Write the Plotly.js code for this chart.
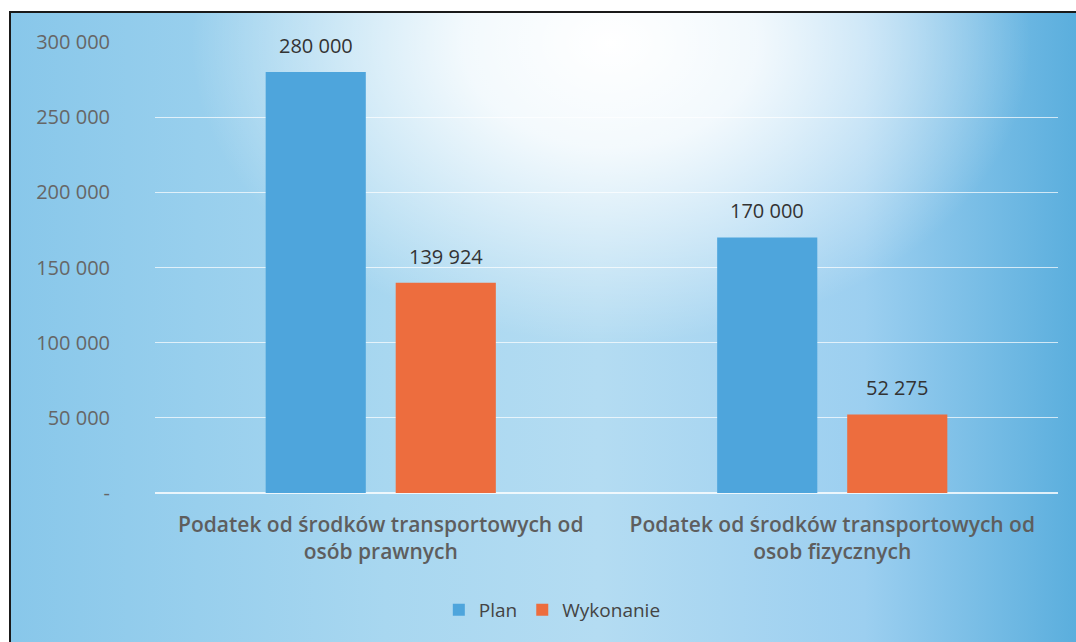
<!DOCTYPE html>
<html>
<head>
<meta charset="utf-8">
<script src="https://cdn.plot.ly/plotly-3.0.1.min.js"></script>
<style>
  html, body { margin: 0; padding: 0; width: 1076px; height: 642px; overflow: hidden; background: #ffffff; }
  #frame {
    position: absolute; left: 9px; top: 11px; width: 1067px; height: 631px;
    border-top: 2px solid #1a1a1a; border-left: 2px solid #1a1a1a;
    background:
      radial-gradient(ellipse 420px 300px at 600px 30px, rgba(255,255,255,1) 0%, rgba(255,255,255,0.85) 35%, rgba(255,255,255,0) 100%),
      linear-gradient(90deg, #88c7ea 0%, #a8d7f0 35%, #b4dcf2 55%, #9ccff0 80%, #5aaedd 100%);
  }
  #chart { position: absolute; left: 0; top: 0; width: 1076px; height: 642px; }
</style>
</head>
<body>
<div id="frame"></div>
<div id="chart"></div>
<script>
const categories = [
  "Podatek od środków transportowych od<br>osób prawnych",
  "Podatek od środków transportowych od<br>osob fizycznych"
];
const planValues = [280000, 170000];
const wykonanieValues = [139924, 52275];
const seriesNames = ["Plan", "Wykonanie"];
const tickValues = [0, 50000, 100000, 150000, 200000, 250000, 300000];
const tickLabels = ["-", "50 000", "100 000", "150 000", "200 000", "250 000", "300 000"];

function fmt(v) {
  return String(v).replace(/\B(?=(\d{3})+(?!\d))/g, " ");
}

const font = "Lato, 'Open Sans', sans-serif";
const wideFont = "'Open Sans', Lato, sans-serif";

const traces = [
  {
    type: "bar", name: seriesNames[0], x: categories, y: planValues,
    marker: { color: "#4ea5dc" },
    hoverinfo: "skip"
  },
  {
    type: "bar", name: seriesNames[1], x: categories, y: wykonanieValues,
    marker: { color: "#ed6d3e" },
    hoverinfo: "skip"
  }
];

// value labels above the bars, positioned through the axes
const annotations = [];
[planValues, wykonanieValues].forEach((vals, si) => {
  vals.forEach((v, ci) => {
    annotations.push({
      xref: "x", yref: "y", x: ci, y: v,
      xshift: si === 0 ? -65 : 65, yshift: 11,
      yanchor: "bottom", xanchor: "center",
      text: fmt(v), showarrow: false,
      font: { family: wideFont, size: 20, color: "#333333" }
    });
  });
});

const layout = {
  width: 1076, height: 642,
  paper_bgcolor: "rgba(0,0,0,0)",
  plot_bgcolor: "rgba(0,0,0,0)",
  margin: { l: 155, r: 18, t: 42, b: 149 },
  barmode: "group",
  bargap: 0.424,
  bargroupgap: 0.23,
  font: { family: font, color: "#595959" },
  xaxis: {
    showgrid: false, zeroline: false, showline: false,
    ticks: "", ticklabelstandoff: 17,
    tickfont: { family: wideFont, size: 21, color: "#5e5e5e", weight: 600 },
    automargin: false
  },
  yaxis: {
    range: [0, 300000],
    tickvals: tickValues, ticktext: tickLabels,
    showgrid: true, gridcolor: "rgba(255,255,255,0.7)", gridwidth: 1.2,
    zeroline: true, zerolinecolor: "rgba(255,255,255,0.8)", zerolinewidth: 1.5,
    showline: false,
    ticks: "outside", ticklen: 40, tickcolor: "rgba(0,0,0,0)",
    tickfont: { family: wideFont, size: 20, color: "#666666" },
    automargin: false
  },
  annotations: annotations,
  showlegend: true,
  legend: {
    orientation: "h", x: 0.44, xanchor: "center", y: -0.259, yanchor: "middle",
    font: { family: wideFont, size: 19, color: "#444444" },
    itemwidth: 30,
    bgcolor: "rgba(0,0,0,0)"
  }
};

Plotly.newPlot("chart", traces, layout, { staticPlot: true, displayModeBar: false });
</script>
</body>
</html>
